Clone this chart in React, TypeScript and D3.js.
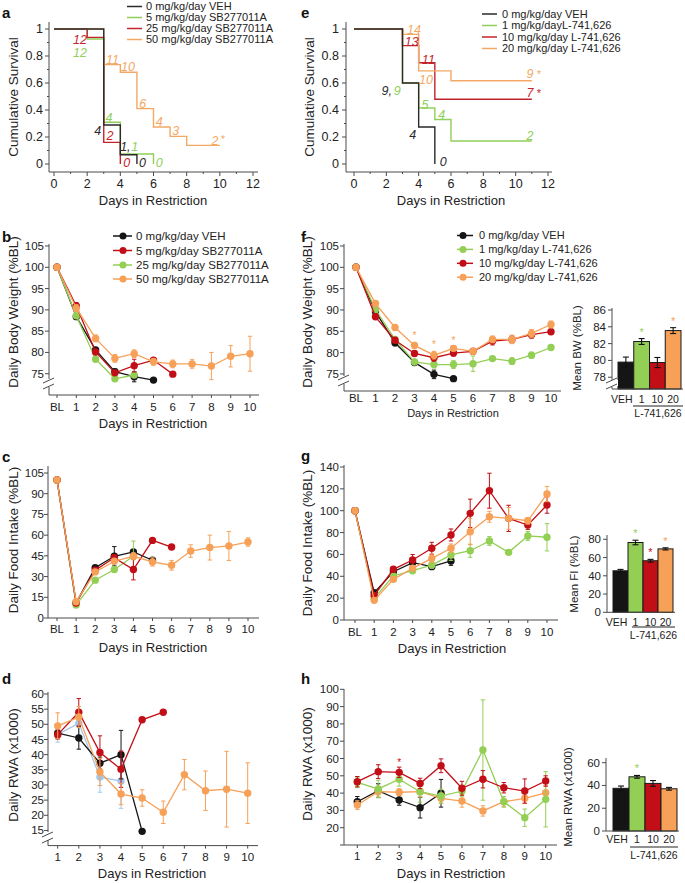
import React from "react";
import * as d3 from "d3";

const FONT = "'Liberation Sans', Arial, Helvetica, sans-serif";
const INK = "#222";
const AX = "#4a4a4a";
const BLACK = "#151515";
const GREEN = "#93cf55";
const RED = "#c20e16";
const ORANGE = "#f6a058";
const BLUE = "#a4c8ea";
const S_COLS = ["#2a2a2a", "#8fcf5b", "#c3242c", "#f4a866"];
const L_COLS = [BLACK, GREEN, RED, ORANGE];
const X_TITLE = "Days in Restriction";

// ---------- Panel a : survival (SB277011A) ----------
const aLegend = ["0 mg/kg/day VEH", "5 mg/kg/day SB277011A", "25 mg/kg/day SB277011A", "50 mg/kg/day SB277011A"];
const aVeh: [number, number][] = [[0, 1], [3, 0.289], [4, 0.069], [5, 0]];
const a5: [number, number][] = [[0, 1], [2, 0.926], [3, 0.309], [4, 0.074], [6, 0]];
const a25: [number, number][] = [[0, 1], [2, 0.938], [3, 0.16], [4, 0]];
const a50: [number, number][] = [[0, 1], [3, 0.736], [4, 0.68], [5, 0.41], [6, 0.274], [7, 0.205], [8, 0.138], [10, 0.138]];
// [text, day, survival, series, anchor]  series: 0 VEH,1 green,2 red,3 orange
const aNotes: [string, number, number, number, string][] = [
  ["12", 1.57, 0.924, 2, "middle"], ["12", 1.57, 0.822, 1, "middle"], ["11", 3.52, 0.776, 3, "middle"], ["10", 4.46, 0.721, 3, "middle"],
  ["6", 5.35, 0.45, 3, "middle"], ["4", 6.35, 0.313, 3, "middle"], ["3", 7.34, 0.244, 3, "middle"], ["2", 9.71, 0.17, 3, "middle"],
  ["4", 3.32, 0.346, 1, "middle"], ["4", 2.64, 0.244, 0, "middle"], ["2", 3.38, 0.207, 2, "middle"], ["1,", 4.62, 0.128, 0, "end"],
  ["1", 4.66, 0.128, 1, "start"], ["0", 4.38, 0.01, 2, "middle"], ["0", 5.33, 0.01, 0, "middle"], ["0", 6.35, 0.01, 1, "middle"],
];
const aStars: [number, number, number][] = [[10.19, 0.202, 3]];

// ---------- Panel e : survival (L-741,626) ----------
const eLegend = ["0 mg/kg/day VEH", "1 mg/kg/dayL-741,626", "10 mg/kg/day L-741,626", "20 mg/kg/day L-741,626"];
const eVeh: [number, number][] = [[0, 1], [3, 0.6], [4, 0.274], [5, 0]];
const e1: [number, number][] = [[0, 1], [3, 0.6], [4, 0.415], [5, 0.33], [6, 0.17], [11, 0.17]];
const e10: [number, number][] = [[0, 1], [3, 0.877], [4, 0.75], [5, 0.48], [11, 0.48]];
const e20: [number, number][] = [[0, 1], [3, 0.96], [4, 0.69], [6, 0.617], [11, 0.617]];
const eNotes: [string, number, number, number, string][] = [
  ["14", 3.71, 0.998, 3, "middle"], ["13", 3.57, 0.906, 2, "middle"], ["11", 4.6, 0.776, 2, "middle"], ["10", 4.45, 0.622, 3, "middle"],
  ["9,", 2.02, 0.543, 0, "middle"], ["9", 2.68, 0.543, 1, "middle"], ["5", 4.39, 0.442, 1, "middle"], ["4", 5.42, 0.363, 1, "middle"],
  ["4", 3.63, 0.215, 0, "middle"], ["0", 5.52, 0.017, 0, "middle"], ["9", 10.88, 0.667, 3, "middle"], ["7", 10.88, 0.528, 2, "middle"],
  ["2", 10.88, 0.207, 1, "middle"],
];
const eStars: [number, number, number][] = [[11.44, 0.684, 3], [11.44, 0.543, 2]];

// ---------- Panel b : body weight (SB277011A) ----------
const dayLabelsBL = ["BL", "1", "2", "3", "4", "5", "6", "7", "8", "9", "10"];
const bLegend = ["0 mg/kg/day VEH", "5 mg/kg/day SB277011A", "25 mg/kg/day SB277011A", "50 mg/kg/day SB277011A"];
const bVeh = [100, 88.4, 80.6, 75.5, 74.3, 73.5, null, null, null, null, null];
const bVehErr = [0, 0.6, 0.5, 0.6, 1.2, 0.3];
const b5 = [100, 90.9, 80.1, 75.2, 76.9, 78.2, 74.9, null, null, null, null];
const b5Err = [0, 0.8, 0.6, 0.5, 1.5, 0.5, 0.4];
const b25 = [100, 88.6, 78.4, 73.8, 74.7, null, null, null, null, null, null];
const b25Err = [0, 0.5, 0.5, 0.4, 0.6];
const b50 = [100, 90.4, 83.3, 78.6, 79.7, 77.8, 77.3, 77.3, 76.8, 79.1, 79.7];
const b50Err = [0, 0.8, 0.8, 0.9, 0.9, 0.8, 0.9, 1.0, 3.2, 2.5, 4.1];

// ---------- Panel f : body weight (L-741,626) ----------
const fLegend = ["0 mg/kg/day VEH", "1 mg/kg/day L-741,626", "10 mg/kg/day L-741,626", "20 mg/kg/day L-741,626"];
const fVeh = [100, 89.6, 82.3, 77.7, 74.9, 73.9, null, null, null, null, null];
const fVehErr = [0, 0.5, 0.7, 0.5, 1.0, 0.4];
const f1 = [100, 90.1, 83.1, 77.8, 77.2, 77.2, 77.4, 78.6, 78.0, 79.4, 81.2];
const f1Err = [0, 0.4, 0.5, 0.5, 0.8, 0.9, 1.8, 0.4, 0.8, 0.7, 0.4];
const f10 = [100, 88.4, 82.9, 79.8, 78.8, 79.9, 80.3, 82.7, 83.1, 84.2, 84.9];
const f10Err = [0, 0.4, 0.6, 0.6, 0.8, 0.7, 0.7, 0.9, 0.8, 0.8, 0.6];
const f20 = [100, 91.5, 85.9, 81.7, 79.4, 81.0, 80.3, 83.1, 83.1, 84.5, 86.6];
const f20Err = [0, 0.4, 0.4, 0.7, 0.9, 0.6, 0.6, 0.8, 1.0, 0.9, 0.8];
const fStars: [number, number][] = [[3, 84.5], [4, 82.4], [5, 83.4]];

const barCats = ["VEH", "1", "10", "20"];
const fbVals = [79.8, 82.25, 79.75, 83.55];
const fbErrs = [0.6, 0.35, 0.6, 0.35];
const fbStars = [false, true, false, true];

// ---------- Panel c : food intake (SB277011A) ----------
const cVeh = [100, 11, 36.5, 44.7, 47.8, 41.8, null, null, null, null, null];
const cVehErr = [0, 0.8, 1.2, 7, 1.5, 1.2];
const c5 = [100, 10.8, 34.6, 43.7, 35.1, 56.2, 51.4, null, null, null, null];
const c5Err = [0, 0.8, 1.5, 2, 7.5, 1.2, 1.2];
const c25 = [100, 9.4, 27.4, 35.1, 44.7, null, null, null, null, null, null];
const c25Err = [0, 0.8, 1.5, 1.5, 11];
const c50 = [100, 11.8, 33.4, 41.1, 44.7, 40.6, 38.2, 48.5, 51.0, 52.2, 55.0];
const c50Err = [0, 0.8, 1.5, 2, 2.5, 3, 3.5, 4.5, 9, 10.5, 3];

// ---------- Panel g : food intake (L-741,626) ----------
const gVeh = [100, 25, 44.2, 52.4, 48.8, 54.0, null, null, null, null, null];
const gVehErr = [0, 2, 1.5, 2, 2, 4];
const g1 = [100, 20, 40.3, 45.1, 50.3, 59.5, 63.4, 72.3, 61.9, 76.9, 75.7];
const g1Err = [0, 2, 2, 2, 3, 5, 6, 4, 2, 4, 12.5];
const g10 = [100, 22.5, 46.4, 54.9, 65.6, 77.8, 97.6, 118.3, 93.0, 86.9, 105.2];
const g10Err = [0, 2, 2, 5, 5.5, 5.5, 13, 16, 12, 4, 7.5];
const g20 = [100, 18, 37.2, 47.3, 56.4, 65.6, 80.8, 94.5, 93.0, 90.8, 115.3];
const g20Err = [0, 2, 1.5, 2, 4, 4, 12, 5, 10, 3, 7];
const gbVals = [45.5, 76.5, 56.5, 69.5];
const gbErrs = [1.5, 2.5, 1.5, 1.2];
const gbStars = [false, true, true, true];

// ---------- Panel d : RWA (SB277011A) ----------
const dayLabels = ["1", "2", "3", "4", "5", "6", "7", "8", "9", "10"];
const dVeh = [47.1, 45.5, 37.2, 40.0, 14.7, null, null, null, null, null];
const dVehErr = [1.5, 3.7, 2, 8, 0];
const d5 = [46.6, 54.0, 40.7, 35.2, 51.5, 54.0, null, null, null, null];
const d5Err = [1.5, 4.5, 5.5, 6, 0.5, 0.5];
const d25 = [46.6, 50.4, 32.6, 31.3, null, null, null, null, null, null];
const d25Err = [2.5, 4, 5, 9];
const d50 = [49.5, 52.4, 34.3, 27.0, 25.7, 21.0, 33.4, 28.1, 28.6, 27.3];
const d50Err = [4.3, 3.5, 4.5, 3.5, 2.7, 3.7, 5, 6.5, 12.5, 10];

// ---------- Panel h : RWA (L-741,626) ----------
const hVeh = [35.0, 41.4, 36.0, 31.6, 39.9, null, null, null, null, null];
const hVehErr = [3, 4, 3, 6, 8];
const h1 = [46.2, 42.4, 48.0, 40.8, 38.3, 41.2, 64.9, 35.0, 25.8, 36.4];
const h1Err = [3, 5, 4, 6, 4, 3, 29, 3, 5, 16];
const h10 = [46.6, 52.4, 52.0, 45.6, 55.8, 42.8, 48.0, 43.1, 41.2, 47.0];
const h10Err = [3, 4, 3, 3, 4, 4, 5, 3, 7, 3];
const h20 = [33.1, 40.8, 40.5, 40.8, 37.0, 35.4, 29.7, 35.0, 37.0, 40.2];
const h20Err = [2.5, 3, 2, 3, 3, 3.5, 3, 3, 3, 4];
const hStars: [number, number][] = [[3, 59]];
const hbVals = [37.5, 47.6, 41.8, 37.1];
const hbErrs = [2, 1.2, 2.5, 1.2];
const hbStars = [false, true, false, false];

// ================= helpers =================
function YAx({ x, sy, ticks, fmt, top, bottom, lx, fs = 11, tl = 4, minor = [] }: any) {
  return (
    <g>
      <line x1={x} x2={x} y1={top} y2={bottom} stroke={AX} strokeWidth={1} />
      {ticks.map((t: number, i: number) => (
        <line key={"t" + i} x1={x - tl} x2={x} y1={sy(t)} y2={sy(t)} stroke={AX} strokeWidth={1} />
      ))}
      {minor.map((t: number, i: number) => (
        <line key={"m" + i} x1={x - tl / 2} x2={x} y1={sy(t)} y2={sy(t)} stroke={AX} strokeWidth={1} />
      ))}
      {ticks.map((t: number, i: number) => {
        const s = fmt(t);
        return s == null ? null : (
          <text key={"l" + i} x={lx} y={sy(t)} dy="0.35em" textAnchor="end" fontSize={fs} fill={INK}>{s}</text>
        );
      })}
    </g>
  );
}

function XAx({ y, sx, vals, labels, x0, x1, ly, fs = 11, tl = 3, minor = [] }: any) {
  return (
    <g>
      <line x1={x0} x2={x1} y1={y} y2={y} stroke={AX} strokeWidth={1} />
      {vals.map((v: number, i: number) => (
        <line key={"t" + i} x1={sx(v)} x2={sx(v)} y1={y} y2={y + tl} stroke={AX} strokeWidth={1} />
      ))}
      {minor.map((v: number, i: number) => (
        <line key={"m" + i} x1={sx(v)} x2={sx(v)} y1={y} y2={y + tl / 2} stroke={AX} strokeWidth={1} />
      ))}
      {vals.map((v: number, i: number) => (
        <text key={"l" + i} x={sx(v)} y={ly} dy="0.35em" textAnchor="middle" fontSize={fs} fill={INK}>{labels[i]}</text>
      ))}
    </g>
  );
}

function Brk({ x, y }: any) {
  return (
    <g stroke={AX} strokeWidth={1}>
      <rect x={x - 6} y={y - 3} width={12} height={6} fill="#fff" stroke="none" />
      <line x1={x - 6} y1={y} x2={x + 5} y2={y - 5} />
      <line x1={x - 6} y1={y + 6} x2={x + 5} y2={y + 1} />
    </g>
  );
}

function YTitle({ x, y, text, fs = 13.5 }: any) {
  return (
    <text transform={`translate(${x},${y}) rotate(-90)`} textAnchor="middle" dy="0.35em" fontSize={fs} fill={INK}>{text}</text>
  );
}

function Lines({ sx, sy, xs, series, r = 3.7, cap = 2.2 }: any) {
  const line = d3.line<[number, number]>().x((d) => d[0]).y((d) => d[1]);
  return (
    <g>
      {series.map((s: any, k: number) => {
        const pts = s.vals
          .map((v: number | null, i: number) => (v == null ? null : { x: sx(xs[i]), v, e: s.errs[i] || 0 }))
          .filter(Boolean);
        return (
          <g key={k}>
            <path d={line(pts.map((p: any) => [p.x, sy(p.v)])) || ""} fill="none" stroke={s.color} strokeWidth={1.3} />
            {pts.map((p: any, i: number) =>
              p.e > 0 ? (
                <g key={"e" + i} stroke={s.color} strokeWidth={1}>
                  <line x1={p.x} x2={p.x} y1={sy(p.v + p.e)} y2={sy(p.v - p.e)} />
                  <line x1={p.x - cap} x2={p.x + cap} y1={sy(p.v + p.e)} y2={sy(p.v + p.e)} />
                  <line x1={p.x - cap} x2={p.x + cap} y1={sy(p.v - p.e)} y2={sy(p.v - p.e)} />
                </g>
              ) : null
            )}
            {pts.map((p: any, i: number) => (
              <circle key={"c" + i} cx={p.x} cy={sy(p.v)} r={r} fill={s.color} />
            ))}
          </g>
        );
      })}
    </g>
  );
}

function Legend({ items, colors, x0, x1, tx, ys, fs, marker }: any) {
  return (
    <g>
      {items.map((t: string, i: number) => (
        <g key={i}>
          <line x1={x0} x2={x1} y1={ys[i]} y2={ys[i]} stroke={colors[i]} strokeWidth={1.5} />
          {marker != null && <circle cx={marker} cy={ys[i]} r={3.5} fill={colors[i]} />}
          <text x={tx} y={ys[i]} dy="0.35em" fontSize={fs} fill={INK}>{t}</text>
        </g>
      ))}
    </g>
  );
}

function Surv({ x0, x1, axX, axR, lx, curves, notes, stars, legend, legX0, legX1, legTx, legYs, legFs, titleX, ytX }: any) {
  const sx = d3.scaleLinear().domain([0, 12]).range([x0, x1]);
  const sy = d3.scaleLinear().domain([0, 1]).range([164, 29]);
  const line = d3.line<[number, number]>().x((d) => sx(d[0])).y((d) => sy(d[1])).curve(d3.curveStepAfter);
  const order = [1, 2, 3, 0];
  return (
    <g>
      <YAx x={axX} sy={sy} ticks={[0, 0.2, 0.4, 0.6, 0.8, 1]} fmt={(t: number) => (t === 0 || t === 1 ? String(t) : t.toFixed(1))}
        top={22} bottom={172} lx={lx} fs={12.5} tl={4} minor={[0.1, 0.3, 0.5, 0.7, 0.9]} />
      <XAx y={172} sx={sx} vals={[0, 2, 4, 6, 8, 10, 12]} labels={["0", "2", "4", "6", "8", "10", "12"]}
        x0={axX} x1={axR} ly={184} fs={12.5} tl={4} minor={[1, 3, 5, 7, 9, 11]} />
      {order.map((k) => (
        <path key={k} d={line(curves[k]) || ""} fill="none" stroke={S_COLS[k]} strokeWidth={1.4} />
      ))}
      {notes.map((n: any, i: number) => (
        <text key={i} x={sx(n[1])} y={sy(n[2])} dy="0.35em" textAnchor={n[4]} fontSize={12.5}
          fontStyle="italic" fill={S_COLS[n[3]]}>{n[0]}</text>
      ))}
      {stars.map((s: any, i: number) => (
        <text key={"s" + i} x={sx(s[0])} y={sy(s[1]) + 6} textAnchor="middle" fontSize={11} fill={S_COLS[s[2]]}>*</text>
      ))}
      <Legend items={legend} colors={S_COLS} x0={legX0} x1={legX1} tx={legTx} ys={legYs} fs={legFs} />
      <text x={titleX} y={200} dy="0.35em" textAnchor="middle" fontSize={13} fill={INK}>{X_TITLE}</text>
      <YTitle x={ytX} y={97} text="Cumulative Survival" fs={13.5} />
    </g>
  );
}

function Inset({ vals, errs, stars, sy, bx0, bx1, axX, ticks, axTop, base, brkY, labY, lineY, lineX0, lineX1, grpY, title, titleX, titleY, vehOff = -4 }: any) {
  const sb = d3.scaleBand<string>().domain(barCats).range([bx0, bx1]).padding(0);
  const w = sb.bandwidth();
  return (
    <g>
      {vals.map((v: number, i: number) => (
        <rect key={"b" + i} x={sb(barCats[i])} y={sy(v)} width={w} height={base - sy(v)} fill={L_COLS[i]} stroke="#1a1a1a" strokeWidth={1} />
      ))}
      {vals.map((v: number, i: number) => {
        const cx = (sb(barCats[i]) as number) + w / 2;
        return (
          <g key={"e" + i} stroke="#111" strokeWidth={1.1}>
            <line x1={cx} x2={cx} y1={sy(v + errs[i])} y2={sy(v - errs[i])} />
            <line x1={cx - 3} x2={cx + 3} y1={sy(v + errs[i])} y2={sy(v + errs[i])} />
            <line x1={cx - 3} x2={cx + 3} y1={sy(v - errs[i])} y2={sy(v - errs[i])} />
          </g>
        );
      })}
      {vals.map((v: number, i: number) =>
        stars[i] ? (
          <text key={"s" + i} x={(sb(barCats[i]) as number) + w / 2} y={sy(v + errs[i]) - 3} textAnchor="middle" fontSize={11} fill={L_COLS[i]}>*</text>
        ) : null
      )}
      <YAx x={axX} sy={sy} ticks={ticks} fmt={(t: number) => String(t)} top={axTop} bottom={brkY != null ? brkY - 2 : base} lx={axX - 6} fs={11.5} tl={4} />
      {brkY != null && (
        <g>
          <line x1={axX} x2={axX} y1={brkY + 4} y2={base} stroke={AX} />
          <Brk x={axX} y={brkY} />
        </g>
      )}
      <line x1={axX} x2={bx1 + 2} y1={base} y2={base} stroke={AX} strokeWidth={1} />
      {barCats.map((c, i) => (
        <text key={"c" + i} x={(sb(c) as number) + w / 2 + (i === 0 ? vehOff : 0)} y={labY} dy="0.35em" textAnchor="middle" fontSize={10.5} fill={INK}>{c}</text>
      ))}
      <line x1={lineX0} x2={lineX1} y1={lineY} y2={lineY} stroke={INK} strokeWidth={1} />
      <text x={(lineX0 + lineX1) / 2} y={grpY} dy="0.35em" textAnchor="middle" fontSize={10.5} fill={INK}>L-741,626</text>
      <YTitle x={titleX} y={titleY} text={title} fs={11.5} />
    </g>
  );
}

const idxBL = d3.range(11);
const idx10 = d3.range(1, 11);

export default function App() {
  const sxB = d3.scaleLinear().domain([0, 10]).range([57, 250]);
  const syB = d3.scaleLinear().domain([70, 105]).range([395, 246]);
  const sxF = d3.scaleLinear().domain([0, 10]).range([356, 551]);
  const syF = d3.scaleLinear().domain([71, 105]).range([391, 246]);
  const syFb = d3.scaleLinear().domain([76.6, 86]).range([389, 310]);
  const sxC = d3.scaleLinear().domain([0, 10]).range([57, 248]);
  const syC = d3.scaleLinear().domain([0, 105]).range([618, 473]);
  const sxG = d3.scaleLinear().domain([0, 10]).range([355, 547]);
  const syG = d3.scaleLinear().domain([0, 140]).range([620, 467]);
  const syGb = d3.scaleLinear().domain([0, 80]).range([612.3, 539.3]);
  const sxD = d3.scaleLinear().domain([1, 10]).range([57.7, 247.7]);
  const syD = d3.scaleLinear().domain([10, 60]).range([845.6, 694]);
  const sxH = d3.scaleLinear().domain([1, 10]).range([357.3, 545.7]);
  const syH = d3.scaleLinear().domain([10, 100]).range([845, 689.3]);
  const syHb = d3.scaleLinear().domain([0, 60]).range([831, 762.7]);

  const letter = (t: string, x: number, y: number) => (
    <text x={x} y={y} fontSize={15} fontWeight="bold" fill="#111">{t}</text>
  );

  return (
    <svg width={685} height={883} viewBox="0 0 685 883" fontFamily={FONT}
      style={{ position: "absolute", left: 0, top: 0, background: "#fff" }}>
      <rect width={685} height={883} fill="#fff" />
      {letter("a", 2, 18)}
      {letter("e", 301, 18)}
      {letter("b", 2, 242)}
      {letter("f", 301, 242)}
      {letter("c", 2, 462)}
      {letter("g", 301, 461)}
      {letter("d", 2, 684)}
      {letter("h", 301, 684)}

      {/* a */}
      <Surv x0={54} x1={253} axX={49} axR={258} lx={43} curves={[aVeh, a5, a25, a50]} notes={aNotes} stars={aStars}
        legend={aLegend} legX0={127} legX1={142} legTx={146} legYs={[6.5, 17.5, 28.5, 39.5]} legFs={11}
        titleX={153} ytX={13} />
      {/* e */}
      <Surv x0={354} x1={548} axX={346} axR={552} lx={339} curves={[eVeh, e1, e10, e20]} notes={eNotes} stars={eStars}
        legend={eLegend} legX0={482} legX1={497} legTx={502} legYs={[14, 25.5, 37, 48.5]} legFs={11}
        titleX={451} ytX={309} />

      {/* b */}
      <g>
        <YAx x={49} sy={syB} ticks={[75, 80, 85, 90, 95, 100, 105]} fmt={(t: number) => String(t)} top={244} bottom={379} lx={44} fs={11.5} />
        <line x1={49} x2={49} y1={387} y2={395} stroke={AX} />
        <Brk x={49} y={383} />
        <XAx y={395} sx={sxB} vals={idxBL} labels={dayLabelsBL} x0={49} x1={259} ly={407} fs={11.5} />
        <Lines sx={sxB} sy={syB} xs={idxBL} series={[
          { vals: bVeh, errs: bVehErr, color: BLACK },
          { vals: b25, errs: b25Err, color: GREEN },
          { vals: b5, errs: b5Err, color: RED },
          { vals: b50, errs: b50Err, color: ORANGE },
        ]} />
        <Legend items={bLegend} colors={[BLACK, RED, GREEN, ORANGE]} x0={113} x1={132} marker={123} tx={136} ys={[236, 250.5, 265, 279]} fs={11.5} />
        <text x={153} y={423} dy="0.35em" textAnchor="middle" fontSize={13} fill={INK}>{X_TITLE}</text>
        <YTitle x={13} y={312} text="Daily Body Weight (%BL)" fs={13.5} />
      </g>

      {/* f */}
      <g>
        <YAx x={344} sy={syF} ticks={[75, 80, 85, 90, 95, 100, 105]} fmt={(t: number) => String(t)} top={244} bottom={376} lx={339} fs={11.5} />
        <line x1={344} x2={344} y1={384} y2={391} stroke={AX} />
        <Brk x={344} y={380} />
        <XAx y={391} sx={sxF} vals={idxBL} labels={dayLabelsBL} x0={344} x1={561} ly={398} fs={11.5} tl={0} />
        <Lines sx={sxF} sy={syF} xs={idxBL} series={[
          { vals: fVeh, errs: fVehErr, color: BLACK },
          { vals: f1, errs: f1Err, color: GREEN },
          { vals: f10, errs: f10Err, color: RED },
          { vals: f20, errs: f20Err, color: ORANGE },
        ]} />
        {fStars.map((s, i) => (
          <text key={i} x={sxF(s[0])} y={syF(s[1]) + 6} textAnchor="middle" fontSize={10} fill={ORANGE}>*</text>
        ))}
        <Legend items={fLegend} colors={L_COLS} x0={457} x1={473} marker={463} tx={479} ys={[235.5, 249.4, 263.3, 277.2]} fs={11} />
        <text x={453} y={413} dy="0.35em" textAnchor="middle" fontSize={11} fill={INK}>{X_TITLE}</text>
        <YTitle x={307} y={312} text="Daily Body Weight (%BL)" fs={13.5} />
        <Inset vals={fbVals} errs={fbErrs} stars={fbStars} sy={syFb} bx0={618} bx1={681} axX={612}
          ticks={[78, 80, 82, 84, 86]} axTop={308} base={389} brkY={383} labY={399} lineY={406} lineX0={633} lineX1={683}
          grpY={413} title="Mean BW (%BL)" titleX={577} titleY={348} />
      </g>

      {/* c */}
      <g>
        <YAx x={48} sy={syC} ticks={[0, 15, 30, 45, 60, 75, 90, 105]} fmt={(t: number) => String(t)} top={466} bottom={618} lx={44} fs={11.5} />
        <XAx y={618} sx={sxC} vals={idxBL} labels={dayLabelsBL} x0={48} x1={259} ly={629} fs={11.5} />
        <Lines sx={sxC} sy={syC} xs={idxBL} series={[
          { vals: cVeh, errs: cVehErr, color: BLACK },
          { vals: c25, errs: c25Err, color: GREEN },
          { vals: c5, errs: c5Err, color: RED },
          { vals: c50, errs: c50Err, color: ORANGE },
        ]} />
        <text x={153} y={647} dy="0.35em" textAnchor="middle" fontSize={13} fill={INK}>{X_TITLE}</text>
        <YTitle x={13} y={540} text="Daily Food Intake (%BL)" fs={13.5} />
      </g>

      {/* g */}
      <g>
        <YAx x={344} sy={syG} ticks={[0, 20, 40, 60, 80, 100, 120, 140]} fmt={(t: number) => String(t)} top={465} bottom={620} lx={339} fs={11.5} />
        <XAx y={620} sx={sxG} vals={idxBL} labels={dayLabelsBL} x0={344} x1={558} ly={632} fs={11.5} />
        <Lines sx={sxG} sy={syG} xs={idxBL} series={[
          { vals: gVeh, errs: gVehErr, color: BLACK },
          { vals: g1, errs: g1Err, color: GREEN },
          { vals: g10, errs: g10Err, color: RED },
          { vals: g20, errs: g20Err, color: ORANGE },
        ]} />
        <text x={452} y={648} dy="0.35em" textAnchor="middle" fontSize={13} fill={INK}>{X_TITLE}</text>
        <YTitle x={307} y={543} text="Daily Food Intake (%BL)" fs={13.5} />
        <Inset vals={gbVals} errs={gbErrs} stars={gbStars} sy={syGb} bx0={613} bx1={673} axX={607}
          ticks={[0, 20, 40, 60, 80]} axTop={535} base={612.3} brkY={null} labY={622} lineY={627} lineX0={632} lineX1={675}
          grpY={635} title="Mean FI (%BL)" titleX={574} titleY={574} />
      </g>

      {/* d */}
      <g>
        <YAx x={48} sy={syD} ticks={[15, 20, 25, 30, 35, 40, 45, 50, 55, 60]} fmt={(t: number) => String(t)} top={692} bottom={832} lx={44} fs={11.5} />
        <line x1={48} x2={48} y1={840} y2={845.6} stroke={AX} />
        <Brk x={48} y={837} />
        <XAx y={845.6} sx={sxD} vals={idx10} labels={dayLabels} x0={48} x1={258} ly={857} fs={11.5} />
        <Lines sx={sxD} sy={syD} xs={idx10} series={[
          { vals: d25, errs: d25Err, color: BLUE },
          { vals: dVeh, errs: dVehErr, color: BLACK },
          { vals: d5, errs: d5Err, color: RED },
          { vals: d50, errs: d50Err, color: ORANGE },
        ]} />
        <text x={152} y={873} dy="0.35em" textAnchor="middle" fontSize={13} fill={INK}>{X_TITLE}</text>
        <YTitle x={13} y={765} text="Daily RWA (x1000)" fs={13.5} />
      </g>

      {/* h */}
      <g>
        <YAx x={344} sy={syH} ticks={[10, 20, 30, 40, 50, 60, 70, 80, 90, 100]} fmt={(t: number) => (t === 10 ? null : String(t))} top={689} bottom={845} lx={339} fs={11.5} />
        <XAx y={845} sx={sxH} vals={idx10} labels={dayLabels} x0={344} x1={557} ly={856} fs={11.5} />
        <Lines sx={sxH} sy={syH} xs={idx10} series={[
          { vals: hVeh, errs: hVehErr, color: BLACK },
          { vals: h20, errs: h20Err, color: ORANGE },
          { vals: h1, errs: h1Err, color: GREEN },
          { vals: h10, errs: h10Err, color: RED },
        ]} />
        {hStars.map((s, i) => (
          <text key={i} x={sxH(s[0])} y={syH(s[1]) + 6} textAnchor="middle" fontSize={10} fill={RED}>*</text>
        ))}
        <text x={451} y={873} dy="0.35em" textAnchor="middle" fontSize={13} fill={INK}>{X_TITLE}</text>
        <YTitle x={307} y={764} text="Daily RWA (x1000)" fs={13.5} />
        <Inset vals={hbVals} errs={hbErrs} stars={hbStars} sy={syHb} bx0={613} bx1={677} axX={606}
          ticks={[0, 20, 40, 60]} axTop={758} base={831} brkY={null} labY={839} lineY={847} lineX0={630} lineX1={678}
          grpY={855} title="Mean RWA (x1000)" titleX={568} titleY={797} />
      </g>
    </svg>
  );
}
